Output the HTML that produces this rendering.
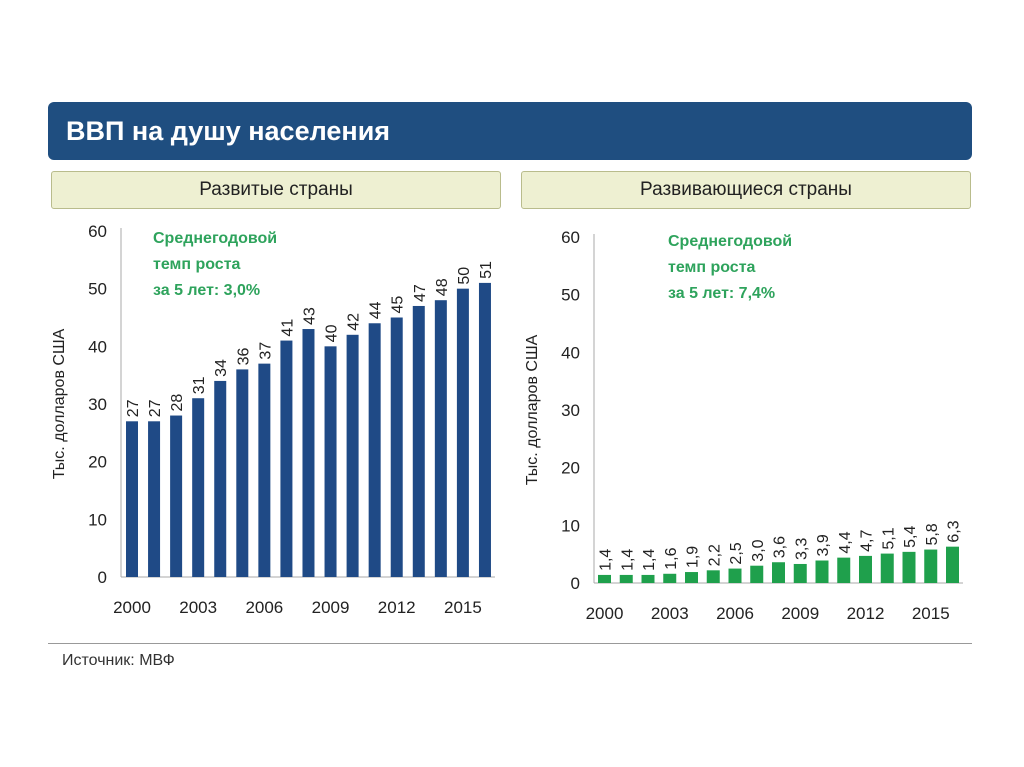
<!DOCTYPE html>
<html><head><meta charset="utf-8"><style>
body{margin:0;width:1024px;height:767px;background:#fff;font-family:"Liberation Sans",sans-serif;position:relative;overflow:hidden}
.hdr{position:absolute;left:48px;top:102px;width:924px;height:58px;background:#1f4e80;border-radius:6px;color:#fff;font-weight:bold;font-size:27px;line-height:58px;box-sizing:border-box;padding-left:18px}
.sub{position:absolute;top:171px;height:38px;width:450px;background:#eef0d2;border:1px solid #b9bc8c;border-radius:3px;box-sizing:border-box;text-align:center;font-size:19px;line-height:36px;color:#222}
svg{position:absolute;left:0;top:0}
</style></head><body>
<div class="hdr">ВВП на душу населения</div>
<div class="sub" style="left:51px">Развитые страны</div>
<div class="sub" style="left:521px">Развивающиеся страны</div>
<svg id="c" width="1024" height="767"></svg>
<div style="position:absolute;left:48px;top:643px;width:924px;height:1px;background:#999"></div>
<div style="position:absolute;left:62px;top:652px;font-size:16px;color:#333">Источник: МВФ</div>
<script>
const years=["2000","2001","2002","2003","2004","2005","2006","2007","2008","2009","2010","2011","2012","2013","2014","2015","2016"];
const devValues=[27,27,28,31,34,36,37,41,43,40,42,44,45,47,48,50,51];
const devLabels=["27","27","28","31","34","36","37","41","43","40","42","44","45","47","48","50","51"];
const emValues=[1.4,1.4,1.4,1.6,1.9,2.2,2.5,3.0,3.6,3.3,3.9,4.4,4.7,5.1,5.4,5.8,6.3];
const emLabels=["1,4","1,4","1,4","1,6","1,9","2,2","2,5","3,0","3,6","3,3","3,9","4,4","4,7","5,1","5,4","5,8","6,3"];
const yTicks=[0,10,20,30,40,50,60];
const NS="http://www.w3.org/2000/svg";
const svg=document.getElementById('c');
function mk(t,a,txt){const e=document.createElementNS(NS,t);for(const k in a)e.setAttribute(k,a[k]);if(txt!==undefined)e.textContent=txt;svg.appendChild(e);return e;}
function chart(o){
  const y=v=>o.y0-(v/60)*(o.y0-o.y60);
  const x=i=>o.x0+i*o.pitch;
  let e=mk('line',{x1:o.ax,y1:o.y60-3,x2:o.ax,y2:o.y0,stroke:'#aaa'});
  
  e=mk('line',{x1:o.ax,y1:o.y0,x2:o.x0+16*o.pitch+o.bw+4,y2:o.y0,stroke:'#aaa'});
  
  yTicks.forEach(t=>{e=mk('text',{x:o.ax-14,y:y(t)+6,'text-anchor':'end','font-size':17,fill:'#222'},t);
    });
  e=mk('text',{transform:`translate(${o.ax-57},${(o.y0+o.y60)/2}) rotate(-90)`,'text-anchor':'middle','font-size':16,fill:'#222'},'Тыс. долларов США');
  
  o.vals.forEach((v,i)=>{
    e=mk('rect',{x:x(i),y:y(v),width:o.bw,height:o.y0-y(v),fill:o.color});
    
    const cx=x(i)+o.bw/2+6;
    e=mk('text',{transform:`translate(${cx},${y(v)-4}) rotate(-90)`,'font-size':16,fill:'#222'},o.labels[i]);
    
    if(i%3===0){e=mk('text',{x:x(i)+o.bw/2,y:o.y0+36,'text-anchor':'middle','font-size':17,fill:'#222'},years[i]);
      }
  });
  ['Среднегодовой','темп роста',o.note].forEach((s,k)=>{
    e=mk('text',{x:o.nx,y:o.ny+k*26,'font-size':16,'font-weight':'bold',fill:'#2ea35c'},s);
    });
}
chart({ax:121,x0:126,pitch:22.06,bw:12,y0:577,y60:231,vals:devValues,labels:devLabels,color:'#1f4a86',nx:153,ny:243,note:'за 5 лет: 3,0%'});
chart({ax:594,x0:598,pitch:21.75,bw:13,y0:583,y60:237,vals:emValues,labels:emLabels,color:'#1fa04c',nx:668,ny:246,note:'за 5 лет: 7,4%'});
</script>
</body></html>
